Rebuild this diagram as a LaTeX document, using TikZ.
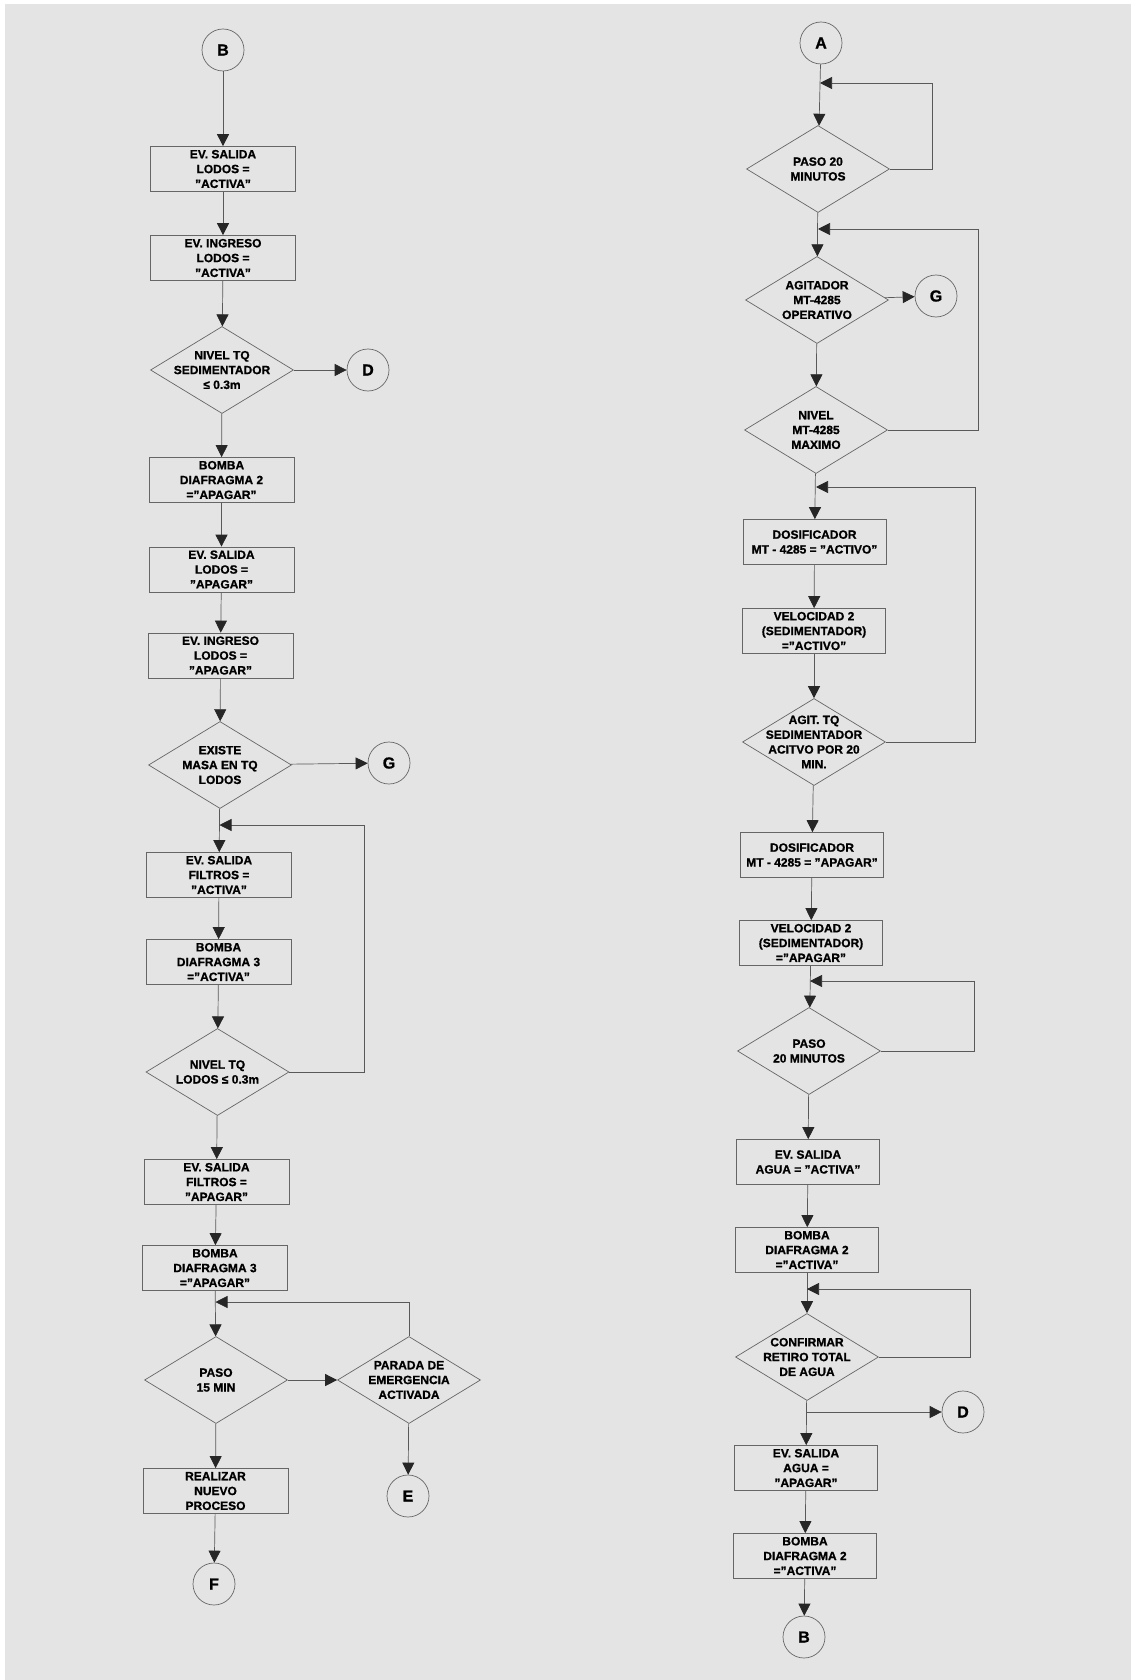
\documentclass[tikz,border=0pt]{standalone}
\usepackage{fontspec}
\setmainfont[FakeBold=1]{Liberation Sans}
\usetikzlibrary{shapes.geometric, arrows.meta}
\usepackage{xcolor}

\begin{document}
\begin{tikzpicture}[x=1pt, y=-1pt, >={Triangle[length=12pt, width=12pt, color=black!85]},
  box/.style={rectangle, draw=black!60, line width=0.7pt, minimum width=#1, minimum height=45pt, inner sep=0pt, align=center, font=\bfseries\fontsize{12}{14.8}\selectfont},
  box/.default=145pt,
  dec/.style={diamond, draw=black!60, line width=0.7pt, minimum width=143pt, minimum height=87pt, inner sep=0pt, label={[align=center, font=\bfseries\fontsize{12}{14.8}\selectfont]center:#1}},
  con/.style={circle, draw=black!60, line width=0.7pt, minimum size=42pt, inner sep=0pt, font=\bfseries\fontsize{16}{19}\selectfont},
  flow/.style={->, draw=black!65, line width=0.7pt}]
  \useasboundingbox (0,0) rectangle (1131,1680);
  \fill[white] (0,0) rectangle (1131,1680);
  \fill[black!10.5] (5,4) rectangle (1131,1680);

  % left column
  \node[con] (B1) at (223,50) {B};
  \node[box] (L1) at (223,169) {EV. SALIDA\\LODOS =\\"ACTIVA"};
  \node[box] (L2) at (223,258) {EV. INGRESO\\LODOS =\\"ACTIVA"};
  \node[dec={NIVEL TQ\\SEDIMENTADOR\\≤ 0.3m}] (L3) at (222,370) {};
  \node[con] (D1) at (368,370) {D};
  \node[box] (L4) at (221.5,480) {BOMBA\\DIAFRAGMA 2\\="APAGAR"};
  \node[box] (L5) at (221.5,569.5) {EV. SALIDA\\LODOS =\\"APAGAR"};
  \node[box] (L6) at (220.5,655.5) {EV. INGRESO\\LODOS =\\"APAGAR"};
  \node[dec={EXISTE\\MASA EN TQ\\LODOS}] (L7) at (220,765) {};
  \node[con] (G1) at (389,763) {G};
  \coordinate (m1) at (219.5,825);
  \node[box] (L8) at (219,875) {EV. SALIDA\\FILTROS =\\"ACTIVA"};
  \node[box] (L9) at (218.5,962) {BOMBA\\DIAFRAGMA 3\\="ACTIVA"};
  \node[dec={NIVEL TQ\\LODOS ≤ 0.3m}] (L10) at (217.5,1072) {};
  \node[box] (L11) at (216.5,1182) {EV. SALIDA\\FILTROS =\\"APAGAR"};
  \node[box] (L12) at (215,1268) {BOMBA\\DIAFRAGMA 3\\="APAGAR"};
  \coordinate (m2) at (215.5,1302);
  \node[dec={PASO\\15 MIN}] (L13) at (216,1380) {};
  \node[dec={PARADA DE\\EMERGENCIA\\ACTIVADA}] (L14) at (409,1380) {};
  \node[box] (L15) at (215.5,1491) {REALIZAR\\NUEVO\\PROCESO};
  \node[con] (E1) at (408,1496) {E};
  \node[con] (F1) at (214,1584) {F};

  % right column
  \node[con] (A1) at (821,43) {A};
  \coordinate (rm1) at (820,83);
  \node[dec={PASO 20\\MINUTOS}] (R1) at (818,169) {};
  \coordinate (rm2) at (818,229);
  \node[dec={AGITADOR\\MT-4285\\OPERATIVO}] (R2) at (817,300) {};
  \node[con] (G2) at (936,296) {G};
  \node[dec={NIVEL\\MT-4285\\MAXIMO}] (R3) at (816,430) {};
  \coordinate (rm3) at (816,487);
  \node[box=143pt] (R4) at (814.5,542) {DOSIFICADOR\\MT - 4285 = "ACTIVO"};
  \node[box=143pt] (R5) at (814,631) {VELOCIDAD 2\\(SEDIMENTADOR)\\="ACTIVO"};
  \node[dec={AGIT. TQ\\SEDIMENTADOR\\ACITVO POR 20\\MIN.}] (R6) at (814,742) {};
  \node[box=143pt] (R7) at (812,855) {DOSIFICADOR\\MT - 4285 = "APAGAR"};
  \node[box=143pt] (R8) at (811,943) {VELOCIDAD 2\\(SEDIMENTADOR)\\="APAGAR"};
  \coordinate (rm4) at (810,981);
  \node[dec={PASO\\20 MINUTOS}] (R9) at (809,1051) {};
  \node[box=143pt] (R10) at (808,1162) {EV. SALIDA\\AGUA = "ACTIVA"};
  \node[box=143pt] (R11) at (807,1250) {BOMBA\\DIAFRAGMA 2\\="ACTIVA"};
  \coordinate (rm5) at (807,1289);
  \node[dec={CONFIRMAR\\RETIRO TOTAL\\DE AGUA}] (R12) at (807,1357) {};
  \coordinate (rb) at (806.5,1412);
  \node[con] (D2) at (963,1412) {D};
  \node[box=143pt] (R13) at (806,1468) {EV. SALIDA\\AGUA =\\"APAGAR"};
  \node[box=143pt] (R14) at (805,1556) {BOMBA\\DIAFRAGMA 2\\="ACTIVA"};
  \node[con] (B2) at (804,1637) {B};

  % left connectors
  \draw[flow] (B1) -- (L1);
  \draw[flow] (L1) -- (L2);
  \draw[flow] (L2) -- (L3);
  \draw[flow] (L3) -- (D1);
  \draw[flow] (L3) -- (L4);
  \draw[flow] (L4) -- (L5);
  \draw[flow] (L5) -- (L6);
  \draw[flow] (L6) -- (L7);
  \draw[flow] (L7) -- (G1);
  \draw[flow] (L7) -- (L8);
  \draw[flow] (L8) -- (L9);
  \draw[flow] (L9) -- (L10);
  \draw[flow] (L10.east) -- ++(75,0) |- (m1);
  \draw[flow] (L10) -- (L11);
  \draw[flow] (L11) -- (L12);
  \draw[flow] (L12) -- (L13);
  \draw[flow] (L13) -- (L14);
  \draw[flow] (L14.north) |- (m2);
  \draw[flow] (L13) -- (L15);
  \draw[flow] (L14) -- (E1);
  \draw[flow] (L15) -- (F1);

  % right connectors
  \draw[flow] (A1) -- (R1);
  \draw[flow] (R1.east) -- ++(42,0) |- (rm1);
  \draw[flow] (R1) -- (R2);
  \draw[flow] (R2) -- (G2);
  \draw[flow] (R2) -- (R3);
  \draw[flow] (R3.east) -- ++(90,0) |- (rm2);
  \draw[flow] (R3) -- (R4);
  \draw[flow] (R4) -- (R5);
  \draw[flow] (R5) -- (R6);
  \draw[flow] (R6.east) -- ++(89,0) |- (rm3);
  \draw[flow] (R6) -- (R7);
  \draw[flow] (R7) -- (R8);
  \draw[flow] (R8) -- (R9);
  \draw[flow] (R9.east) -- ++(93,0) |- (rm4);
  \draw[flow] (R9) -- (R10);
  \draw[flow] (R10) -- (R11);
  \draw[flow] (R11) -- (R12);
  \draw[flow] (R12.east) -- ++(91,0) |- (rm5);
  \draw[flow] (R12) -- (R13);
  \draw[flow] (rb) -- (D2);
  \draw[flow] (R13) -- (R14);
  \draw[flow] (R14) -- (B2);
\end{tikzpicture}
\end{document}
